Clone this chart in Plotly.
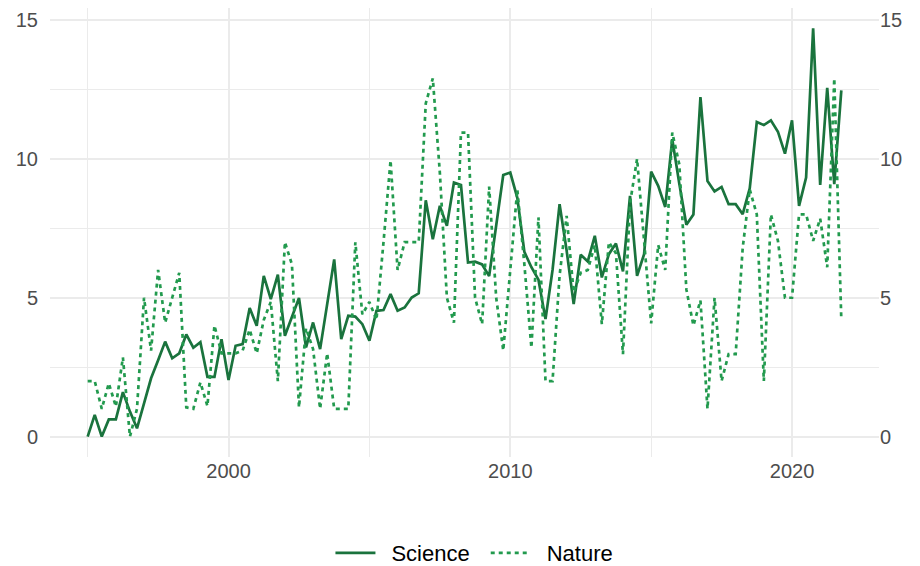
import plotly.graph_objects as go

start_year = 1995.0
step = 0.25

science = [0.0, 0.78, 0.0, 0.62, 0.62, 1.6, 0.9, 0.3, 1.2, 2.1,
           2.75, 3.42, 2.82, 3.0, 3.68, 3.2, 3.4, 2.15, 2.15, 3.51,
           2.04, 3.27, 3.33, 4.63, 3.99, 5.79, 4.95, 5.83, 3.63, 4.29,
           4.99, 3.21, 4.11, 3.15, 4.8, 6.38, 3.51, 4.35, 4.32, 4.05,
           3.45, 4.53, 4.56, 5.13, 4.53, 4.65, 5.01, 5.16, 8.51, 7.11,
           8.31, 7.59, 9.15, 9.06, 6.27, 6.3, 6.2, 5.78, 7.6, 9.42,
           9.51, 8.6, 6.65, 6.1, 5.65, 4.23, 6.0, 8.37, 6.7, 4.77,
           6.55, 6.31, 7.23, 5.73, 6.57, 6.95, 5.95, 8.67, 5.79, 6.57,
           9.54, 9.03, 8.27, 10.71, 9.1, 7.63, 8.0, 12.23, 9.2, 8.83,
           8.99, 8.37, 8.37, 8.01, 8.94, 11.33, 11.22, 11.39, 10.98, 10.19,
           11.39, 8.31, 9.33, 14.7, 9.06, 12.56, 9.09, 12.47]

nature = [2.0, 2.0, 1.0, 1.92, 1.08, 2.85, 0.0, 1.0, 5.0, 3.1,
          6.0, 4.1, 5.0, 5.9, 1.05, 1.0, 1.95, 1.1, 4.0, 3.0,
          3.0, 3.0, 3.1, 3.85, 3.0, 4.2, 4.85, 2.0, 7.0, 6.2,
          1.05, 3.9, 3.15, 1.0, 3.0, 1.0, 1.0, 1.0, 7.0, 4.4,
          4.85, 4.2, 7.0, 9.95, 6.0, 7.0, 7.0, 7.0, 12.0, 12.9,
          9.5, 5.0, 4.1, 10.95, 10.95, 5.0, 4.05, 9.0, 5.0, 3.1,
          6.0, 8.9, 6.2, 3.2, 7.9, 2.0, 2.0, 5.8, 7.95, 5.2,
          5.9, 6.0, 6.9, 4.05, 7.0, 6.6, 2.97, 8.4, 10.0, 7.0,
          4.08, 6.9, 6.0, 10.95, 9.8, 5.3, 4.0, 4.9, 1.0, 5.0,
          2.0, 2.97, 2.97, 6.8, 8.9, 8.0, 2.0, 8.0, 7.05, 5.0,
          5.0, 8.0, 8.0, 7.05, 7.85, 6.1, 12.9, 4.2]

years = [start_year + step * i for i in range(len(science))]

series_names = ["Science", "Nature"]
x_ticks = [2000, 2010, 2020]
y_ticks = [0, 5, 10, 15]

science_color = "#1a733d"
nature_color = "#229a4e"
grid_color = "#ebebeb"
tick_color = "#4d4d4d"
font_family = "Liberation Sans, Arial, sans-serif"

xmin, xmax = min(years), max(years)
ymin, ymax = 0, max(max(science), max(nature))
xr = [xmin - 0.05 * (xmax - xmin), xmax + 0.05 * (xmax - xmin)]
yr = [ymin - 0.05 * (ymax - ymin), ymax + 0.05 * (ymax - ymin)]

SP = "\u2002"  # en space: widens the gap between key and label like ggplot

fig = go.Figure()
fig.add_trace(go.Scatter(x=years, y=science, mode="lines",
                         name=SP + series_names[0] + SP,
                         line=dict(color=science_color, width=2.7)))
fig.add_trace(go.Scatter(x=years, y=nature, mode="lines",
                         name=SP + series_names[1],
                         line=dict(color=nature_color, width=2.7, dash="4px,4px")))
# invisible carrier so the secondary (right) axis is drawn
fig.add_trace(go.Scatter(x=years, y=science, mode="lines", yaxis="y2",
                         line=dict(width=0, color="rgba(0,0,0,0)"),
                         showlegend=False, hoverinfo="skip"))

axis_font = dict(family=font_family, size=20, color=tick_color)

# the page body adds an 8px offset, so the figure is 8px smaller
fig.update_layout(
    width=912, height=558,
    paper_bgcolor="white", plot_bgcolor="white",
    margin=dict(l=42, r=41, t=0, b=109, autoexpand=False),
    font=dict(family=font_family),
    xaxis=dict(range=xr, tickvals=x_ticks, showline=False, zeroline=False,
               automargin=False,
               showgrid=True, gridcolor=grid_color, gridwidth=1.6,
               tickfont=axis_font, ticks="", ticklabelstandoff=0,
               minor=dict(dtick=5, tick0=1995, showgrid=True,
                          gridcolor=grid_color, gridwidth=0.9)),
    yaxis=dict(range=yr, tickvals=y_ticks, showline=False, zeroline=False,
               automargin=False,
               showgrid=True, gridcolor=grid_color, gridwidth=1.6,
               tickfont=axis_font, ticks="", ticklabelstandoff=11,
               minor=dict(dtick=2.5, tick0=0, showgrid=True,
                          gridcolor=grid_color, gridwidth=0.9)),
    yaxis2=dict(range=yr, tickvals=y_ticks, overlaying="y", side="right",
                automargin=False,
                showline=False, zeroline=False, showgrid=False,
                tickfont=axis_font, ticks="", ticklabelstandoff=0),
    showlegend=True,
    legend=dict(orientation="h", x=0.512, xanchor="center", y=-0.214,
                yanchor="middle", font=dict(family=font_family, size=22, color="black"),
                bgcolor="rgba(0,0,0,0)", itemwidth=40, tracegroupgap=0),
)

fig.write_html("out.html")
